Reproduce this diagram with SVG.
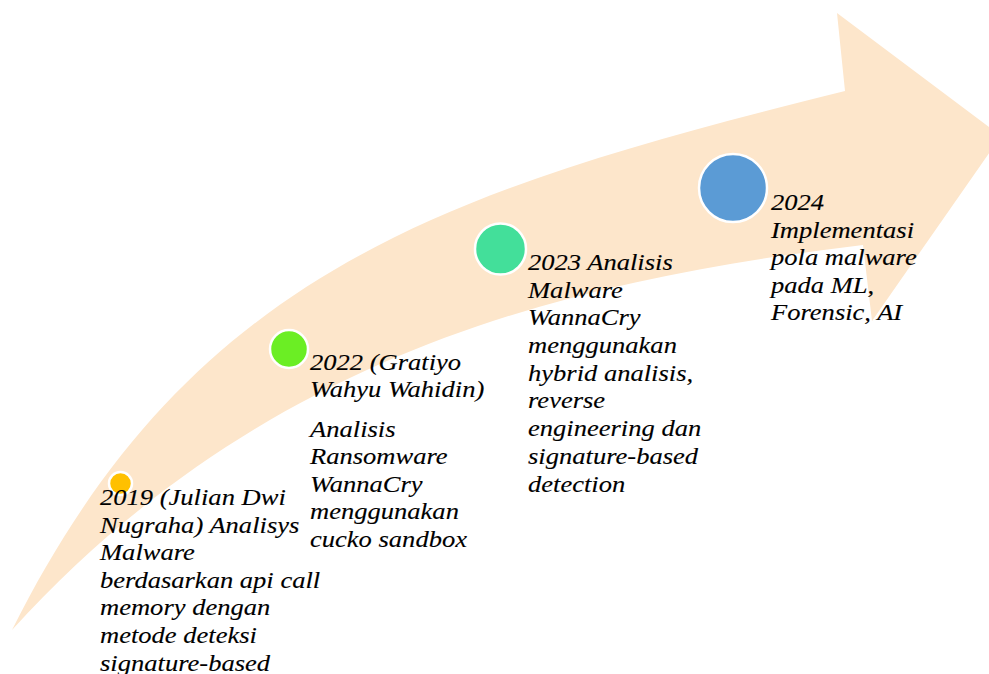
<svg xmlns="http://www.w3.org/2000/svg" width="989" height="674" viewBox="0 0 989 674">
  <style>
    .band { fill: #FDE6CB; stroke: none; }
    .dot { stroke: #FFFFFF; stroke-width: 2.5; }
    .label { font-family: "Liberation Serif", "Times New Roman", serif; font-style: italic; font-size: 23.5px; fill: #000000; stroke: #000000; stroke-width: 0.12; }
  </style>

  <!-- curved timeline arrow -->
  <g id="timeline-arrow">
    <path class="band" d="M 12 630 C 192 270, 445 191, 845 91 L 837 13 L 1001 136 L 872 321 L 863 245 C 563 281, 262 355, 12 630 Z"/>
  </g>

  <!-- 2019 -->
  <g id="node-2019">
    <circle class="dot" cx="120.5" cy="483.5" r="11.5" fill="#FFC000"/>
    <g transform="translate(100 0) scale(1.13 1)">
      <text class="label">
        <tspan x="0" y="505">2019 (Julian Dwi</tspan>
        <tspan x="0" y="532.6">Nugraha) Analisys</tspan>
        <tspan x="0" y="560.2">Malware</tspan>
        <tspan x="0" y="587.8">berdasarkan api call</tspan>
        <tspan x="0" y="615.4">memory dengan</tspan>
        <tspan x="0" y="643">metode deteksi</tspan>
        <tspan x="0" y="670.6">signature-based</tspan>
      </text>
    </g>
  </g>

  <!-- 2022 -->
  <g id="node-2022">
    <circle class="dot" cx="289" cy="349" r="19" fill="#6BEE24"/>
    <g transform="translate(310 0) scale(1.13 1)">
      <text class="label">
        <tspan x="0" y="370">2022 (Gratiyo</tspan>
        <tspan x="0" y="397">Wahyu Wahidin)</tspan>
        <tspan x="0" y="437">Analisis</tspan>
        <tspan x="0" y="464.5">Ransomware</tspan>
        <tspan x="0" y="492">WannaCry</tspan>
        <tspan x="0" y="519.5">menggunakan</tspan>
        <tspan x="0" y="547">cucko sandbox</tspan>
      </text>
    </g>
  </g>

  <!-- 2023 -->
  <g id="node-2023">
    <circle class="dot" cx="500.5" cy="249" r="25.5" fill="#43DF9A"/>
    <g transform="translate(528 0) scale(1.13 1)">
      <text class="label">
        <tspan x="0" y="270.5">2023 Analisis</tspan>
        <tspan x="0" y="298">Malware</tspan>
        <tspan x="0" y="325.5">WannaCry</tspan>
        <tspan x="0" y="353">menggunakan</tspan>
        <tspan x="0" y="381">hybrid analisis,</tspan>
        <tspan x="0" y="408.5">reverse</tspan>
        <tspan x="0" y="436.5">engineering dan</tspan>
        <tspan x="0" y="464.5">signature-based</tspan>
        <tspan x="0" y="492">detection</tspan>
      </text>
    </g>
  </g>

  <!-- 2024 -->
  <g id="node-2024">
    <circle class="dot" cx="733" cy="188" r="34" fill="#5B9BD5"/>
    <g transform="translate(771 0) scale(1.13 1)">
      <text class="label">
        <tspan x="0" y="210">2024</tspan>
        <tspan x="0" y="238">Implementasi</tspan>
        <tspan x="0" y="265.5">pola malware</tspan>
        <tspan x="0" y="293">pada ML,</tspan>
        <tspan x="0" y="320.5">Forensic, AI</tspan>
      </text>
    </g>
  </g>
</svg>
